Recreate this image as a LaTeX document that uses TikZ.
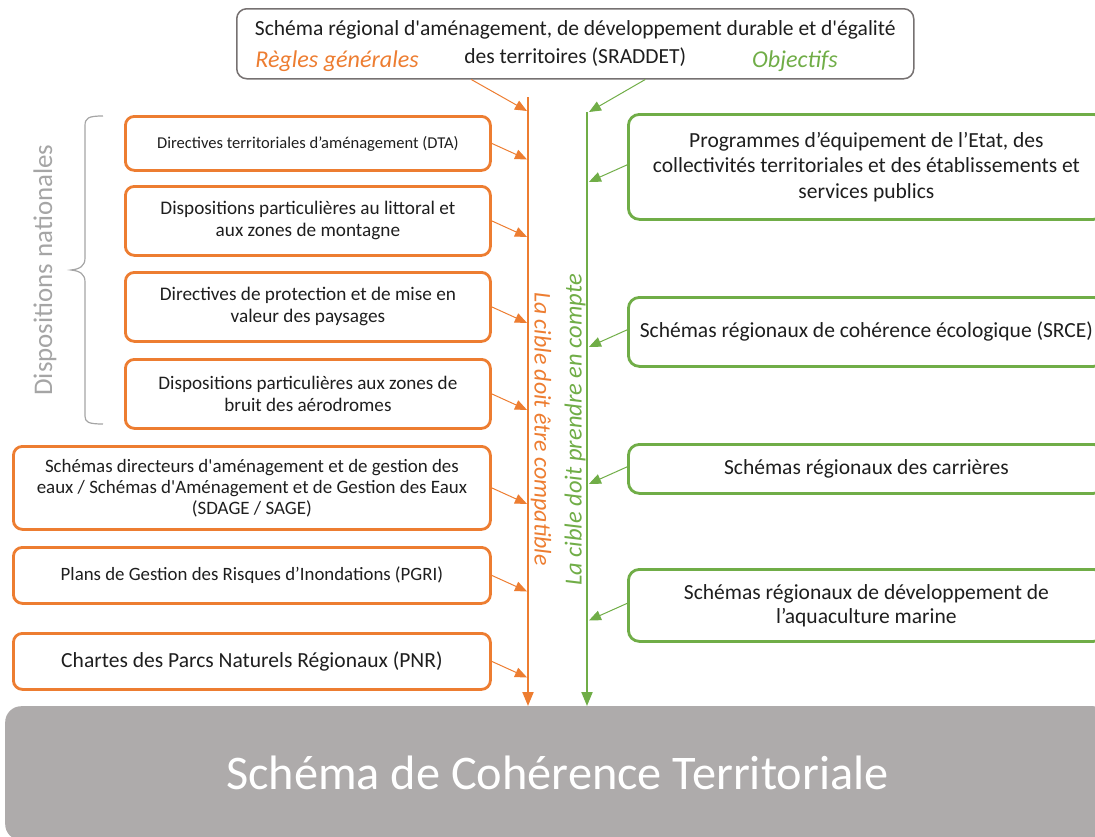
\documentclass[tikz,border=0pt]{standalone}
\usepackage{fontspec}
\defaultfontfeatures[\rmfamily]{}
\setmainfont{Carlito}
\usetikzlibrary{arrows.meta,calc}
\definecolor{orng}{HTML}{ED7D31}
\definecolor{grn}{HTML}{70AD47}
\definecolor{gbord}{HTML}{767171}
\definecolor{gfill}{HTML}{AEABAB}
\definecolor{txt}{HTML}{1E1E1E}
\definecolor{dgray}{HTML}{A5A5A5}
\begin{document}
\begin{tikzpicture}[x=1bp,y=-1bp,
 obox/.style={draw=orng, line width=2.8bp, rounded corners=9bp, anchor=north west, align=center, text=txt, inner sep=0pt, minimum width=365bp},
 gbox/.style={draw=grn, line width=2.8bp, rounded corners=11bp, anchor=north west, align=center, text=txt, inner sep=0pt, minimum width=476bp},
 oarr/.style={draw=orng, line width=1bp, -{Triangle[length=12bp,width=10bp]}},
 garr/.style={draw=grn, line width=1bp, -{Triangle[length=12bp,width=10bp]}},
 fs/.style 2 args={font=\fontsize{#1}{#2}\selectfont}
]
\useasboundingbox (0,0) rectangle (1095,837);
% top box
\node[draw=gbord, line width=1.5bp, rounded corners=10bp, anchor=north west, minimum width=677bp, minimum height=70bp, inner sep=0pt, align=center, text=txt, font=\fontsize{21.6}{28}\selectfont] (top) at (236,8) {Schéma régional d'aménagement, de développement durable et d'égalité\\des territoires (SRADDET)};
\node[text=orng, font=\fontsize{24.2}{28}\selectfont\itshape] (rg) at (337,61) {Règles générales};
\node[text=grn, font=\fontsize{24.2}{28}\selectfont\itshape] (obj) at (795,61) {Objectifs};
% vertical lines
\coordinate (ot) at (528,97);
\coordinate (ob) at (528,706);
\coordinate (gt) at (587,112);
\coordinate (gb) at (587,706);
\draw[orng, line width=2bp, -{Triangle[length=14bp,width=11bp]}] (ot) -- (ob);
\draw[grn, line width=2bp, -{Triangle[length=14bp,width=11bp]}] (gt) -- (gb);
\draw[oarr] ($(top.south)+(-104,0)$) -- ($(ot)+(-1,14)$);
\draw[garr] ($(top.south)+(70,0)$) -- ($(gt)+(2,0)$);
\node[rotate=-90, text=orng, font=\fontsize{24}{28}\selectfont\itshape] (lo) at (541,429) {La cible doit être compatible};
\node[rotate=90, text=grn, font=\fontsize{24.6}{28}\selectfont\itshape] (lg) at (575,430) {La cible doit prendre en compte};
% left boxes
\node[obox, minimum height=54bp, fs={16.6}{20}] (b1) at (124,115) {Directives territoriales d’aménagement (DTA)};
\node[obox, minimum height=69bp, fs={19.3}{22}] (b2) at (124,185) {Dispositions particulières au littoral et\\aux zones de montagne};
\node[obox, minimum height=69bp, fs={19.3}{22}] (b3) at (124,271) {Directives de protection et de mise en\\valeur des paysages};
\node[obox, minimum height=69bp, fs={19.2}{22}] (b4) at (124,358) {Dispositions particulières aux zones de\\bruit des aérodromes};
\node[obox, minimum width=477bp, minimum height=83bp, fs={19}{21}] (b5) at (12,445) {Schémas directeurs d'aménagement et de gestion des\\eaux / Schémas d'Aménagement et de Gestion des Eaux\\(SDAGE / SAGE)};
\node[obox, minimum width=477bp, minimum height=56bp, fs={18.9}{22}] (b6) at (12,546) {Plans de Gestion des Risques d’Inondations (PGRI)};
\node[obox, minimum width=477bp, minimum height=56bp, fs={21.6}{25}] (b7) at (12,632) {Chartes des Parcs Naturels Régionaux (PNR)};
\foreach \b in {b1,b2,b3,b4,b5,b6,b7}{
  \draw[oarr] (\b.east) -- ($(\b.east -| ot)+(-1,16)$);
}
% right boxes
\node[gbox, minimum height=105bp, fs={21.6}{25.5}] (r1) at (627,113) {Programmes d’équipement de l’Etat, des\\collectivités territoriales et des établissements et\\services publics};
\node[gbox, minimum height=69bp, fs={21.6}{25}] (r2) at (627,296) {Schémas régionaux de cohérence écologique (SRCE)};
\node[gbox, minimum height=49bp, fs={21.6}{25}] (r3) at (627,443) {Schémas régionaux des carrières};
\node[gbox, minimum height=72bp, fs={21.6}{24}] (r4) at (627,568) {Schémas régionaux de développement de\\l’aquaculture marine};
\foreach \b in {r1,r2,r3,r4}{
  \draw[garr] ($(\b.west)+(0,-2)$) -- ($(\b.west -| gt)+(2,15)$);
}
% brace and side label
\draw[dgray, line width=1.2bp] (103,116) .. controls (88,116) and (85,118) .. (85,126) -- (85,258) .. controls (85,266) and (80,269) .. (71,270) .. controls (80,271) and (85,274) .. (85,282) -- (85,416) .. controls (85,422) and (88,424) .. (103,424);
\node[rotate=90, text=dgray, font=\fontsize{27}{31}\selectfont] (dn) at (45,270) {Dispositions nationales};
% bottom box
\node[fill=gfill, rounded corners=16bp, anchor=north west, minimum width=1104bp, minimum height=134bp, inner sep=0pt, text=white, font=\fontsize{48.5}{56}\selectfont] (scot) at (5,706) {Schéma de Cohérence Territoriale};
\end{tikzpicture}
\end{document}
